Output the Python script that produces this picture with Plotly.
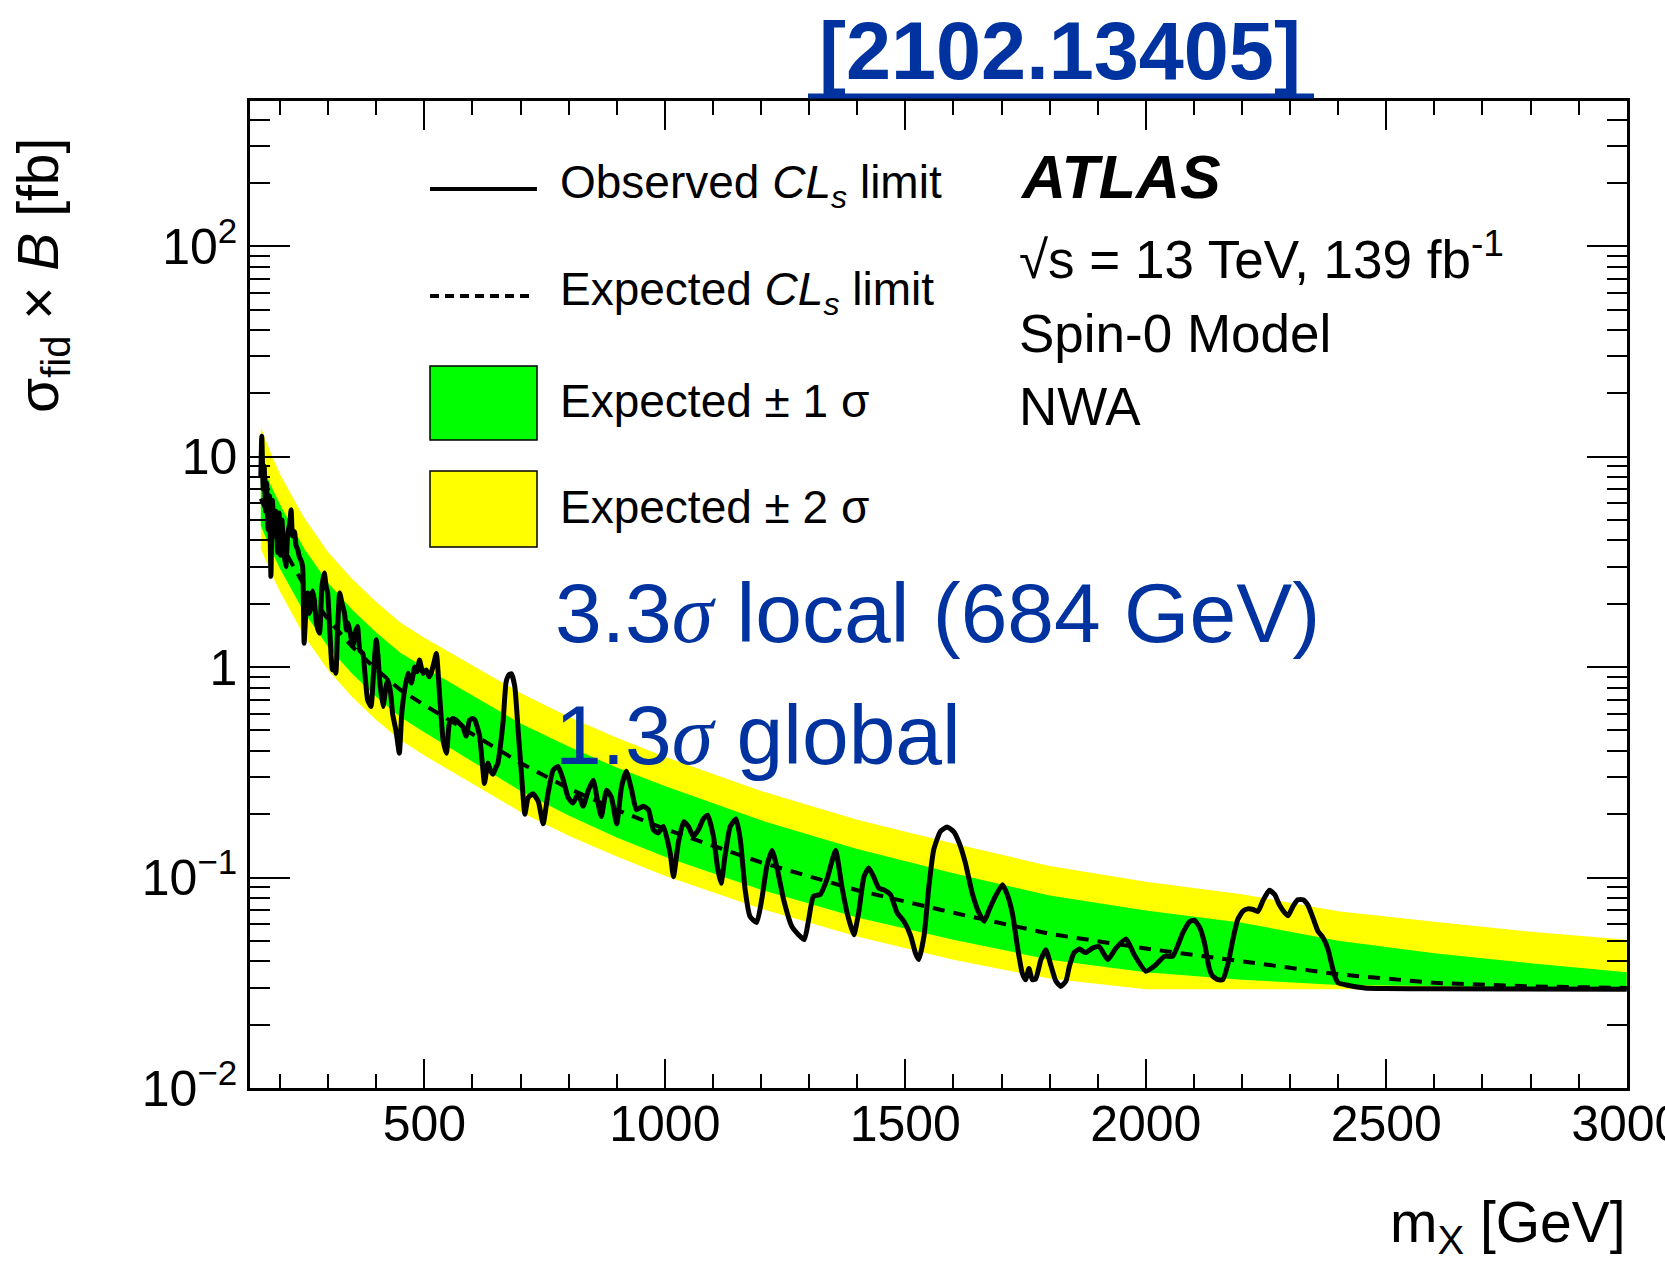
import plotly.graph_objects as go

# ---------------------------------------------------------------------------
# Expected limit and its +-1 / +-2 sigma bands (fb), vs resonance mass (GeV)
# ---------------------------------------------------------------------------
mass_exp = [160, 180, 200, 225, 250, 300, 350, 400, 450, 500, 600, 700, 800, 900, 1000,
            1200, 1400, 1600, 1800, 2000, 2200, 2400, 2600, 2800, 3000]
exp_median = [6.32, 4.93, 3.95, 3.09, 2.45, 1.68, 1.25, 0.975, 0.78, 0.66, 0.48, 0.35, 0.265,
              0.21, 0.17, 0.118, 0.087, 0.068, 0.054, 0.046, 0.040, 0.0347, 0.0316, 0.0304, 0.0299]
exp_plus2 = [13.8, 10.5, 8.26, 6.46, 5.12, 3.51, 2.62, 2.04, 1.63, 1.38, 1.02, 0.753, 0.581,
             0.462, 0.375, 0.258, 0.188, 0.145, 0.1135, 0.0955, 0.0832, 0.0692, 0.0617, 0.0553, 0.0507]
exp_plus1 = [9.57, 7.38, 5.92, 4.62, 3.66, 2.51, 1.875, 1.46, 1.17, 0.995, 0.733, 0.54, 0.419,
             0.333, 0.272, 0.187, 0.1365, 0.1047, 0.0822, 0.0697, 0.061, 0.0501, 0.0437, 0.0392, 0.0355]
exp_minus1 = [4.69, 3.66, 2.93, 2.29, 1.82, 1.245, 0.929, 0.723, 0.579, 0.49, 0.355, 0.258, 0.197,
              0.155, 0.1256, 0.0875, 0.0646, 0.0507, 0.0407, 0.0355, 0.0327, 0.0309, 0.0305, 0.0299, 0.0295]
exp_minus2 = [3.64, 2.84, 2.28, 1.78, 1.41, 0.966, 0.721, 0.561, 0.45, 0.38, 0.279, 0.205, 0.158,
              0.126, 0.102, 0.0711, 0.0525, 0.0407, 0.0331, 0.0295, 0.0295, 0.0295, 0.0295, 0.0295, 0.0295]

# ---------------------------------------------------------------------------
# Observed limit (fb)
# ---------------------------------------------------------------------------
mass_obs = [
    160, 162, 165, 167, 170, 172, 175, 178, 181, 184,
    188, 191, 195, 198, 201, 204, 207, 212, 216, 220,
    223, 226, 230, 233, 237, 240, 244, 247, 250, 254,
    257, 261, 264, 268, 271, 276, 282, 287, 292, 296,
    299, 304, 309, 313, 316, 320, 324, 329, 334, 338,
    341, 346, 351, 356, 361, 366, 372, 377, 382, 389,
    395, 400, 404, 407, 414, 420, 424, 430, 434, 441,
    448, 453, 459, 466, 473, 480, 485, 490, 497, 504,
    510, 514, 520, 525, 532, 539, 546, 552, 559, 566,
    573, 580, 587, 594, 600, 605, 610, 615, 620, 625,
    632, 638, 643, 648, 653, 658, 664, 670, 676, 681,
    688, 695, 702, 709, 716, 726, 737, 747, 757, 768,
    778, 789, 799, 809, 820, 830, 841, 851, 861, 868,
    879, 889, 900, 910, 920, 931, 941, 955, 966, 976,
    986, 997, 1011, 1018, 1028, 1039, 1049, 1059, 1070, 1080,
    1089, 1101, 1110, 1117, 1125, 1136, 1148, 1157, 1167, 1177,
    1191, 1202, 1212, 1223, 1233, 1247, 1264, 1278, 1290, 1299,
    1309, 1323, 1337, 1355, 1368, 1379, 1393, 1403, 1414, 1424,
    1434, 1445, 1455, 1469, 1483, 1497, 1511, 1521, 1528, 1539,
    1549, 1559, 1573, 1587, 1601, 1612, 1625, 1639, 1653, 1664,
    1674, 1688, 1702, 1712, 1723, 1733, 1743, 1750, 1757, 1764,
    1771, 1782, 1792, 1803, 1813, 1823, 1834, 1841, 1851, 1862,
    1875, 1889, 1903, 1921, 1938, 1959, 1976, 2000, 2018, 2039,
    2056, 2077, 2091, 2101, 2112, 2122, 2132, 2139, 2150, 2160,
    2171, 2181, 2191, 2202, 2212, 2223, 2233, 2244, 2257, 2268,
    2278, 2289, 2296, 2306, 2316, 2327, 2337, 2348, 2358, 2368,
    2379, 2386, 2393, 2400, 2420, 2455, 2497, 2600, 3000,
]
obs_limit = [
    8.0, 12.5, 7.0, 9.0, 5.5, 7.5, 4.5, 6.5, 2.7, 6.2,
    4.2, 5.5, 3.5, 5.4, 3.4, 5.0, 3.7, 3.0, 4.3, 4.8,
    5.6, 4.2, 4.4, 3.8, 3.6, 3.35, 3.2, 3.0, 1.30, 1.9,
    2.25, 1.8, 1.94, 2.3, 2.09, 1.6, 1.45, 2.4, 2.8, 2.4,
    2.25, 1.4, 0.97, 1.0, 0.935, 1.6, 2.25, 2.0, 1.8, 1.5,
    1.62, 1.45, 1.25, 1.45, 1.56, 1.2, 1.16, 0.9, 0.7, 0.65,
    1.0, 1.35, 1.1, 0.87, 0.65, 0.8, 0.87, 0.75, 0.6, 0.5,
    0.39, 0.6, 0.78, 0.935, 0.84, 1.0, 0.95, 1.08, 0.935, 0.97,
    0.9, 0.935, 1.05, 1.16, 0.72, 0.45, 0.39, 0.54, 0.57, 0.56,
    0.54, 0.52, 0.47, 0.56, 0.57, 0.56, 0.52, 0.47, 0.36, 0.28,
    0.35, 0.32, 0.31, 0.33, 0.35, 0.42, 0.56, 0.85, 0.92, 0.93,
    0.81, 0.5, 0.31, 0.2, 0.24, 0.25, 0.23, 0.18, 0.25, 0.325,
    0.337, 0.29, 0.24, 0.226, 0.25, 0.218, 0.26, 0.29, 0.226, 0.195,
    0.26, 0.24, 0.18, 0.27, 0.32, 0.26, 0.21, 0.218, 0.21, 0.169,
    0.163, 0.175, 0.131, 0.101, 0.146, 0.184, 0.175, 0.157, 0.169, 0.19,
    0.198, 0.157, 0.11, 0.094, 0.126, 0.175, 0.19, 0.151, 0.0875, 0.0654,
    0.0612, 0.08, 0.113, 0.1345, 0.112, 0.0785, 0.0586, 0.0535, 0.0507, 0.063,
    0.0815, 0.083, 0.098, 0.1345, 0.0908, 0.068, 0.0535, 0.068, 0.101, 0.111,
    0.101, 0.089, 0.0875, 0.083, 0.068, 0.062, 0.053, 0.0438, 0.0408, 0.053,
    0.0908, 0.1355, 0.1656, 0.174, 0.165, 0.146, 0.117, 0.0845, 0.068, 0.062,
    0.07, 0.082, 0.0925, 0.083, 0.067, 0.0471, 0.0352, 0.0327, 0.037, 0.0327,
    0.033, 0.0408, 0.0454, 0.038, 0.0322, 0.0304, 0.0322, 0.0378, 0.044, 0.0457,
    0.044, 0.0462, 0.047, 0.0408, 0.0462, 0.0511, 0.043, 0.0359, 0.038, 0.0423,
    0.0423, 0.0546, 0.0617, 0.0627, 0.058, 0.0489, 0.037, 0.034, 0.0327, 0.0327,
    0.039, 0.0507, 0.063, 0.0692, 0.071, 0.0705, 0.069, 0.078, 0.087, 0.083,
    0.074, 0.068, 0.0659, 0.073, 0.0785, 0.0785, 0.074, 0.064, 0.0556, 0.052,
    0.0455, 0.039, 0.034, 0.0316, 0.0308, 0.0299, 0.0297, 0.0296, 0.0295,
]

# Axis ticks
y_tick_vals = [0.01, 0.1, 1, 10, 100]
y_tick_text = ["10<sup>\u22122</sup>", "10<sup>\u22121</sup>", "1", "10", "10<sup>2</sup>"]
x_tick_vals = [500, 1000, 1500, 2000, 2500, 3000]
x_tick_text = ["500", "1000", "1500", "2000", "2500", "3000"]

# ---------------------------------------------------------------------------
# Page geometry (pixels) and helpers to place decorations in paper coords
# ---------------------------------------------------------------------------
W, H = 1665, 1263
ML, MR, MT, MB = 250, 38, 101, 175
PW, PH = W - ML - MR, H - MT - MB


def px(x):
    return (x - ML) / PW


def py(y):
    return (H - MB - y) / PH


FONT = "Liberation Sans, Arial, Helvetica, sans-serif"
BLUE = "#0033a0"
GREEN = "#00ff00"
YELLOW = "#ffff00"

fig = go.Figure()

# +-2 sigma band
fig.add_trace(go.Scatter(x=mass_exp, y=exp_minus2, mode="lines", line=dict(width=0),
                         hoverinfo="skip", showlegend=False))
fig.add_trace(go.Scatter(x=mass_exp, y=exp_plus2, mode="lines", line=dict(width=0),
                         fill="tonexty", fillcolor=YELLOW, hoverinfo="skip", showlegend=False))
# +-1 sigma band
fig.add_trace(go.Scatter(x=mass_exp, y=exp_minus1, mode="lines", line=dict(width=0),
                         hoverinfo="skip", showlegend=False))
fig.add_trace(go.Scatter(x=mass_exp, y=exp_plus1, mode="lines", line=dict(width=0),
                         fill="tonexty", fillcolor=GREEN, hoverinfo="skip", showlegend=False))
# expected median
fig.add_trace(go.Scatter(x=mass_exp, y=exp_median, mode="lines",
                         line=dict(color="black", width=4, dash="12px,9px"),
                         showlegend=False))
# observed
fig.add_trace(go.Scatter(x=mass_obs, y=obs_limit, mode="lines",
                         line=dict(color="black", width=5, shape="spline", smoothing=0.5),
                         showlegend=False))

shapes = []
annotations = []

# Reference link above the frame
annotations.append(dict(text="<b>[2102.13405]</b>", x=px(1060), y=py(51), xref="paper", yref="paper",
                        xanchor="center", yanchor="middle", showarrow=False,
                        font=dict(family=FONT, size=81, color=BLUE)))
shapes.append(dict(type="line", xref="paper", yref="paper", x0=px(808), x1=px(1314),
                   y0=py(96), y1=py(96), line=dict(color=BLUE, width=5)))

# Legend block
shapes.append(dict(type="line", xref="paper", yref="paper", x0=px(430), x1=px(537),
                   y0=py(189), y1=py(189), line=dict(color="black", width=4)))
shapes.append(dict(type="line", xref="paper", yref="paper", x0=px(430), x1=px(535),
                   y0=py(296), y1=py(296), line=dict(color="black", width=4, dash="9px,6px")))
shapes.append(dict(type="rect", xref="paper", yref="paper", x0=px(430), x1=px(537),
                   y0=py(440), y1=py(366), fillcolor=GREEN, line=dict(color="black", width=1.5)))
shapes.append(dict(type="rect", xref="paper", yref="paper", x0=px(430), x1=px(537),
                   y0=py(547), y1=py(471), fillcolor=YELLOW, line=dict(color="black", width=1.5)))

legend_rows = [
    ("Observed <i>CL<sub>s</sub></i> limit", 186),
    ("Expected <i>CL<sub>s</sub></i> limit", 292),
    ("Expected \u00b1 1 \u03c3", 401),
    ("Expected \u00b1 2 \u03c3", 507),
]
for txt, yy in legend_rows:
    annotations.append(dict(text=txt, x=px(558), y=py(yy), xref="paper", yref="paper",
                            xanchor="left", yanchor="middle", showarrow=False,
                            font=dict(family=FONT, size=46, color="black")))

# Experiment labels
annotations.append(dict(text="<b><i>ATLAS</i></b>", x=px(1018), y=py(177), xref="paper",
                        yref="paper", xanchor="left", yanchor="middle", showarrow=False,
                        font=dict(family=FONT, size=61, color="black")))
info_rows = [
    ("\u221as = 13 TeV, 139 fb<sup>-1</sup>", 255),
    ("Spin-0 Model", 333),
    ("NWA", 406),
]
for txt, yy in info_rows:
    annotations.append(dict(text=txt, x=px(1017), y=py(yy), xref="paper", yref="paper",
                            xanchor="left", yanchor="middle", showarrow=False,
                            font=dict(family=FONT, size=53, color="black")))

# Significance notes
SIG = '<span style="font-family:Liberation Serif"><i>\u03c3</i></span>'
annotations.append(dict(text="3.3" + SIG + " local (684 GeV)", x=px(553), y=py(613),
                        xref="paper", yref="paper", xanchor="left", yanchor="middle",
                        showarrow=False, font=dict(family=FONT, size=84, color=BLUE)))
annotations.append(dict(text="1.3" + SIG + " global", x=px(553), y=py(735),
                        xref="paper", yref="paper", xanchor="left", yanchor="middle",
                        showarrow=False, font=dict(family=FONT, size=84, color=BLUE)))

# Axis titles
annotations.append(dict(text="\u03c3<sub>fid</sub> \u00d7 <i>B</i> [fb]", x=px(42), y=py(276),
                        xref="paper", yref="paper", xanchor="center", yanchor="middle",
                        textangle=-90, showarrow=False,
                        font=dict(family=FONT, size=57, color="black")))
annotations.append(dict(text="m<sub>X</sub> [GeV]", x=px(1628), y=py(1226),
                        xref="paper", yref="paper", xanchor="right", yanchor="middle",
                        showarrow=False, font=dict(family=FONT, size=57, color="black")))

fig.update_layout(
    width=W, height=H,
    margin=dict(l=ML, r=MR, t=MT, b=MB, pad=0, autoexpand=False),
    paper_bgcolor="white", plot_bgcolor="white",
    showlegend=False,
    shapes=shapes,
    annotations=annotations,
    font=dict(family=FONT, color="black"),
)

fig.update_xaxes(
    range=[137.5, 3000.5], showgrid=False, zeroline=False, automargin=False,
    showline=True, linewidth=2.5, linecolor="black", mirror="allticks",
    ticks="inside", ticklen=29, tickwidth=2, tickcolor="black",
    tickmode="array", tickvals=x_tick_vals, ticktext=x_tick_text,
    ticklabelstandoff=-10, ticklabeloverflow="allow",
    minor=dict(ticks="inside", ticklen=14, tickwidth=2, tickcolor="black",
               tickmode="linear", tick0=0, dtick=100, showgrid=False),
    tickfont=dict(family=FONT, size=50, color="black"),
)
fig.update_yaxes(
    type="log", range=[-2, 2.69], showgrid=False, zeroline=False, automargin=False,
    showline=True, linewidth=2.5, linecolor="black", mirror="allticks",
    ticks="inside", ticklen=40, tickwidth=2, tickcolor="black",
    tickmode="array", tickvals=y_tick_vals, ticktext=y_tick_text,
    minor=dict(ticks="inside", ticklen=20, tickwidth=2, tickcolor="black", dtick="D1", showgrid=False),
    tickfont=dict(family=FONT, size=50, color="black"),
)

fig.write_html("out.html")
